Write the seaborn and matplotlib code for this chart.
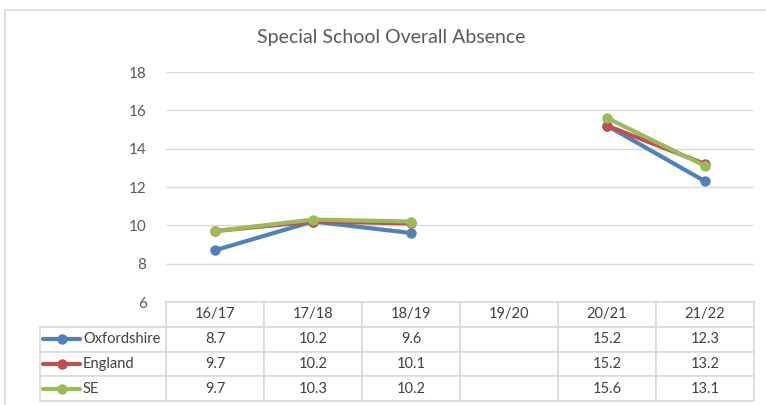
import matplotlib
matplotlib.use("Agg")
import matplotlib.pyplot as plt
from matplotlib.patches import Rectangle
import seaborn as sns
import pandas as pd
import numpy as np

# Data
years = ["16/17", "17/18", "18/19", "19/20", "20/21", "21/22"]
oxfordshire = [8.7, 10.2, 9.6, np.nan, 15.2, 12.3]
england = [9.7, 10.2, 10.1, np.nan, 15.2, 13.2]
se = [9.7, 10.3, 10.2, np.nan, 15.6, 13.1]
series_names = ["Oxfordshire", "England", "SE"]
y_ticks = [6, 8, 10, 12, 14, 16, 18]

colors = {"Oxfordshire": "#4F81BD", "England": "#C0504D", "SE": "#9BBB59"}
grid_col = "#D9D9D9"
text_col = "#595959"

# long format table, with a segment id so the gap at 19/20 breaks the line
rows = []
for name, vals in zip(series_names, [oxfordshire, england, se]):
    seg = 0
    for i, v in enumerate(vals):
        if np.isnan(v):
            seg += 1
            continue
        rows.append({"pos": i, "value": v, "series": name, "segment": seg})
df = pd.DataFrame(rows)

sns.set_theme(style="white")
plt.rcParams["font.family"] = ["Lato", "DejaVu Sans"]

fig = plt.figure(figsize=(7.66, 4.05), dpi=100)
ax = fig.add_axes([166 / 766, 1 - 302 / 405, 588 / 766, 230 / 405])

# outer chart border
fig.patches.append(Rectangle((5 / 766, -0.05), 1.05, 1 - 10 / 405 + 0.05,
                             transform=fig.transFigure, fill=False,
                             edgecolor=grid_col, linewidth=1.2))

sns.lineplot(data=df, x="pos", y="value", hue="series", units="segment",
             estimator=None, palette=colors, hue_order=series_names,
             marker="o", markersize=7.5, markeredgewidth=0, linewidth=3.0,
             legend=False, ax=ax, zorder=3)

ax.set_xlim(-0.5, len(years) - 0.5)
ax.set_ylim(6, 18)
ax.set_yticks(y_ticks)
ax.set_xticks([])
ax.set_xlabel("")
ax.set_ylabel("")
ax.grid(axis="y", color=grid_col, linewidth=1)
for s in ax.spines.values():
    s.set_visible(False)
ax.tick_params(axis="y", length=0, pad=14, labelsize=11, labelcolor=text_col)

fig.text(391 / 766, 1 - 38 / 405, "Special School Overall Absence",
         ha="center", va="center", fontsize=14, color=text_col)

# data table under the plot
cell_text = []
for name, vals in zip(series_names, [oxfordshire, england, se]):
    cell_text.append([name] + ["" if np.isnan(v) else f"{v:.1f}" for v in vals])

label_w = 126
col_w = 98
total_w = label_w + col_w * len(years)
tbl = ax.table(cellText=cell_text, colLabels=[""] + years,
               colWidths=[label_w / total_w] + [col_w / total_w] * len(years),
               cellLoc="center",
               bbox=[-label_w / 588, -99 / 230, total_w / 588, 99 / 230])
tbl.auto_set_font_size(False)
for (r, c), cell in tbl.get_celld().items():
    cell.set_edgecolor(grid_col)
    cell.set_linewidth(1.2)
    cell.get_text().set_fontsize(10.5)
    cell.get_text().set_color("#404040")
    if r == 0 and c == 0:
        cell.visible_edges = ""
    if c == 0 and r > 0:
        cell.get_text().set_ha("left")
        cell._loc = "left"
        cell.PAD = 43 / label_w

# legend keys inside the row label cells
row_h = 25 / 230
for i, name in enumerate(series_names):
    yc = -(24 + row_h * 230 * i + 12.5) / 230
    ax.plot([-123 / 588, -86 / 588], [yc, yc], transform=ax.transAxes,
            color=colors[name], linewidth=3.0, clip_on=False)
    ax.plot([-104.5 / 588], [yc], transform=ax.transAxes, color=colors[name],
            marker="o", markersize=7.5, markeredgewidth=0, clip_on=False)

fig.savefig("out.png", dpi=100)
